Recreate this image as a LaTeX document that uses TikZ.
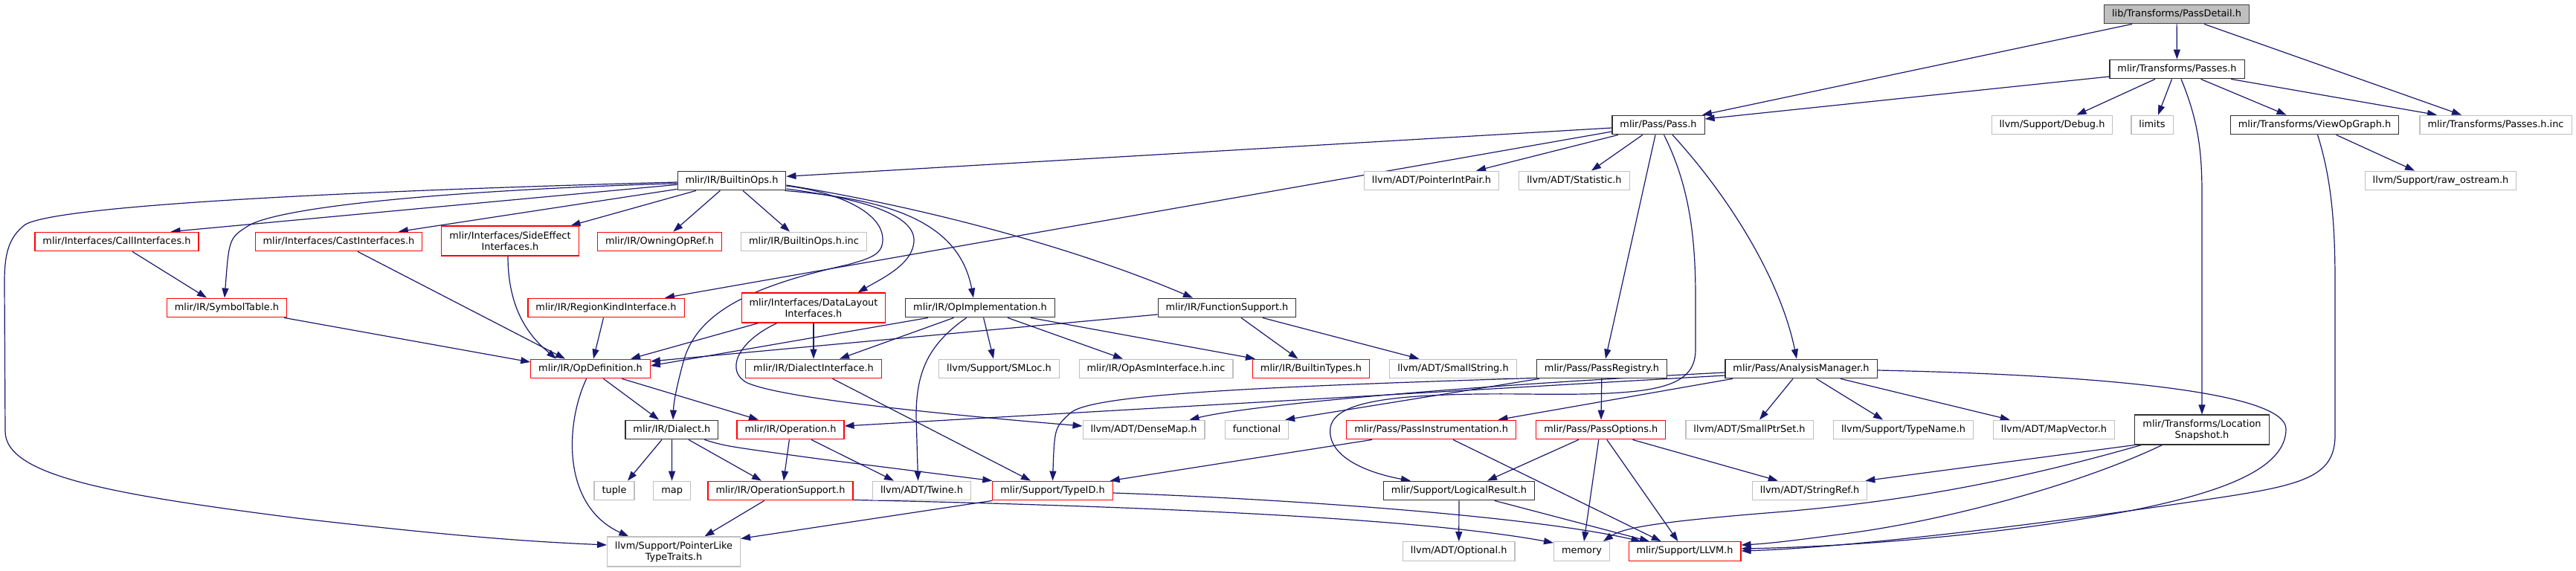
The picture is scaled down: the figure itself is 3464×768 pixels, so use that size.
\documentclass[tikz,border=0pt]{standalone}
\usepackage{fontspec}
\setmainfont{DejaVu Sans}
\usetikzlibrary{arrows.meta,calc}
\definecolor{edgeblue}{HTML}{191970}
\definecolor{truncred}{HTML}{FF0000}
\definecolor{extgray}{HTML}{BFBFBF}
\definecolor{docborder}{HTML}{303030}
\definecolor{rootfill}{HTML}{BFBFBF}
\definecolor{rootborder}{HTML}{404040}
\pgfdeclarelayer{bg}
\pgfsetlayers{bg,main}
\newcommand{\nodefnt}{\fontsize{12.9}{15}\selectfont}
\begin{document}
\begin{tikzpicture}[x=1pt,y=-1pt,
  nbox/.style={draw, line width=1.1pt, inner xsep=10.5pt, inner ysep=0pt, font=\nodefnt, text=black, fill=white},
  one/.style={minimum height=25.7pt, text height=9.6pt, text depth=2.9pt},
  two/.style={minimum height=40pt, align=center},
  docnode/.style={nbox, one, draw=docborder},
  trunc/.style={nbox, one, draw=truncred},
  extnode/.style={nbox, one, draw=extgray},
  doctwo/.style={nbox, two, draw=docborder},
  trunctwo/.style={nbox, two, draw=truncred},
  exttwo/.style={nbox, two, draw=extgray},
  rootnode/.style={nbox, one, draw=rootborder, fill=rootfill},
  conn/.style={draw=edgeblue, line width=1.2pt, -{Triangle[length=13pt,width=9pt]}}
]
\begin{pgfonlayer}{bg}
\fill[white] (0,0) rectangle (3464,768);
\end{pgfonlayer}
\useasboundingbox (0,0) rectangle (3464,768);

% ---------------- nodes ----------------
\node[rootnode] (root) at (2927,19) {lib/Transforms/PassDetail.h};
\node[docnode] (passes) at (2927.5,93) {mlir/Transforms/Passes.h};
\node[docnode] (pass) at (2230,168) {mlir/Pass/Pass.h};
\node[extnode] (debug) at (2759.5,168) {llvm/Support/Debug.h};
\node[extnode] (limits) at (2894,168) {limits};
\node[docnode] (viewop) at (3112.5,168) {mlir/Transforms/ViewOpGraph.h};
\node[extnode] (passesinc) at (3356,168) {mlir/Transforms/Passes.h.inc};
\node[docnode] (builtinops) at (984,243) {mlir/IR/BuiltinOps.h};
\node[extnode] (pointerintpair) at (1925,243) {llvm/ADT/PointerIntPair.h};
\node[extnode] (statistic) at (2117,243) {llvm/ADT/Statistic.h};
\node[extnode] (rawostream) at (3282,243) {llvm/Support/raw\_ostream.h};
\node[trunc] (callif) at (157,325) {mlir/Interfaces/CallInterfaces.h};
\node[trunc] (castif) at (455.5,325) {mlir/Interfaces/CastInterfaces.h};
\node[trunctwo] (sideeffect) at (686,324) {mlir/Interfaces/SideEffect\\Interfaces.h};
\node[trunc] (owning) at (887,325) {mlir/IR/OwningOpRef.h};
\node[extnode] (builtinopsinc) at (1081,325) {mlir/IR/BuiltinOps.h.inc};
\node[trunc] (symtab) at (305,414) {mlir/IR/SymbolTable.h};
\node[trunc] (regionkind) at (815,414) {mlir/IR/RegionKindInterface.h};
\node[trunctwo] (datalayout) at (1094,414) {mlir/Interfaces/DataLayout\\Interfaces.h};
\node[docnode] (opimpl) at (1318,414) {mlir/IR/OpImplementation.h};
\node[docnode] (funcsupport) at (1650,414) {mlir/IR/FunctionSupport.h};
\node[trunc] (opdef) at (794,496) {mlir/IR/OpDefinition.h};
\node[trunc] (dialectif) at (1094,496) {mlir/IR/DialectInterface.h};
\node[extnode] (smloc) at (1343.5,496) {llvm/Support/SMLoc.h};
\node[extnode] (opasminc) at (1554.5,496) {mlir/IR/OpAsmInterface.h.inc};
\node[trunc] (builtintypes) at (1763,496) {mlir/IR/BuiltinTypes.h};
\node[extnode] (smallstring) at (1954,496) {llvm/ADT/SmallString.h};
\node[docnode] (passregistry) at (2154,496) {mlir/Pass/PassRegistry.h};
\node[docnode] (analysis) at (2422,496) {mlir/Pass/AnalysisManager.h};
\node[docnode] (dialect) at (903.4,578) {mlir/IR/Dialect.h};
\node[trunc] (operation) at (1063,578) {mlir/IR/Operation.h};
\node[extnode] (densemap) at (1538,578) {llvm/ADT/DenseMap.h};
\node[extnode] (functional) at (1690,578) {functional};
\node[trunc] (passinstr) at (1924.6,578) {mlir/Pass/PassInstrumentation.h};
\node[trunc] (passoptions) at (2152.8,578) {mlir/Pass/PassOptions.h};
\node[extnode] (smallptrset) at (2352.5,578) {llvm/ADT/SmallPtrSet.h};
\node[extnode] (typename) at (2559.5,578) {llvm/Support/TypeName.h};
\node[extnode] (mapvector) at (2762,578) {llvm/ADT/MapVector.h};
\node[doctwo] (locsnap) at (2961,578) {mlir/Transforms/Location\\Snapshot.h};
\node[extnode] (tuple) at (826,660) {tuple};
\node[extnode] (map) at (903.6,660) {map};
\node[trunc] (opsupport) at (1049.5,660) {mlir/IR/OperationSupport.h};
\node[extnode] (twine) at (1239.5,660) {llvm/ADT/Twine.h};
\node[trunc] (typeid) at (1415.5,660) {mlir/Support/TypeID.h};
\node[docnode] (logical) at (1962,660) {mlir/Support/LogicalResult.h};
\node[extnode] (stringref) at (2433.6,660) {llvm/ADT/StringRef.h};
\node[exttwo] (pointerlike) at (906,742) {llvm/Support/PointerLike\\TypeTraits.h};
\node[extnode] (optional) at (1961.7,741.5) {llvm/ADT/Optional.h};
\node[extnode] (memory) at (2127,741.5) {memory};
\node[trunc] (llvm) at (2265.5,741.5) {mlir/Support/LLVM.h};

% ---------------- edges ----------------
\begin{pgfonlayer}{bg}
% root
\draw[conn] ($(root.south)+(-60,0)$) -- ($(pass.north)+(59,0)$);
\draw[conn] (root) -- (passes);
\draw[conn] ($(root.south)+(37,0)$) -- ($(passesinc.north)+(-46,0)$);
% passes
\draw[conn] ($(passes.west)+(0,10)$) -- ($(pass.east)+(0,-8)$);
\draw[conn] ($(passes.south)+(-29.5,0)$) -- ($(debug.north)+(33,0)$);
\draw[conn] ($(passes.south)+(-7,0)$) -- ($(limits.north)+(8,0)$);
\draw[conn] ($(passes.south)+(32,0)$) -- ($(viewop.north)+(-38,0)$);
\draw[conn] ($(passes.south)+(72.5,0)$) -- ($(passesinc.north)+(-79,0)$);
\draw[conn] ($(passes.south)+(5.5,0)$) .. controls (2955,160) and (2961,200) .. (2961,260) -- (locsnap.north);
% viewop
\draw[conn] ($(viewop.south)+(29,0)$) -- ($(rawostream.north)+(-35,0)$);
\draw[conn] ($(viewop.south)+(4,0)$) .. controls (3135,240) and (3140,300) .. (3140,380) -- (3140,585) .. controls (3140,640) and (3100,652) .. (2980,670) .. controls (2750,705) and (2480,737) .. ($(llvm.east)+(0,-0.5)$);
% locsnap
\draw[conn] (locsnap.south west) -- ($(stringref.north east)+(-3,0)$);
\draw[conn] ($(locsnap.south west)+(9,0)$) .. controls (2700,650) and (2550,675) .. (2400,688) .. controls (2250,700) and (2185,708) .. ($(memory.north east)+(-9,0)$);
\draw[conn] ($(locsnap.south)+(-53.5,0)$) .. controls (2800,650) and (2620,700) .. (2480,718) .. controls (2420,726) and (2380,731) .. ($(llvm.east)+(0,-8.5)$);
% analysis
\draw[conn] ($(analysis.west)+(0,9)$) -- ($(operation.east)+(0,-5)$);
\draw[conn] ($(analysis.west)+(0,5)$) .. controls (1950,520) and (1680,545) .. ($(densemap.north east)+(-21,0)$);
\draw[conn] ($(analysis.south west)+(10.4,0)$) -- ($(passinstr.north east)+(-24.5,0)$);
\draw[conn] ($(analysis.south)+(-11,0)$) -- ($(smallptrset.north)+(13.5,0)$);
\draw[conn] ($(analysis.south)+(20.5,0)$) -- ($(typename.north)+(-27.5,0)$);
\draw[conn] ($(analysis.south)+(53,0)$) -- ($(mapvector.north)+(-59.3,0)$);
\draw[conn] ($(analysis.east)+(0,2)$) .. controls (2850,505) and (3074,530) .. (3074,577) .. controls (3074,630) and (2990,662) .. (2864,687) .. controls (2660,725) and (2450,736) .. ($(llvm.east)+(0,-3.5)$);
% pass
\draw[conn] ($(pass.west)+(0,4)$) -- ($(builtinops.east)+(0,-5.7)$);
\draw[conn] ($(pass.west)+(0,9)$) -- ($(regionkind.north)+(79,0)$);
\draw[conn] ($(pass.south)+(-54,0)$) -- ($(pointerintpair.north)+(60,0)$);
\draw[conn] ($(pass.south)+(-21.2,0)$) -- ($(statistic.north)+(23,0)$);
\draw[conn] ($(pass.south)+(-4,0)$) -- ($(passregistry.north)+(5,0)$);
\draw[conn] ($(pass.south)+(19,0)$) .. controls (2330,270) and (2395,380) .. ($(analysis.north)+(-6,0)$);
\draw[conn] ($(pass.south)+(7.5,0)$) .. controls (2272,250) and (2280,320) .. (2280,400) -- (2280,470) .. controls (2280,525) and (2220,532) .. (2050,530) .. controls (1840,528) and (1778,545) .. (1790,590) .. controls (1800,625) and (1860,640) .. ($(logical.north west)+(37,0)$);
% passregistry
\draw[conn] (passregistry) -- (passoptions);
\draw[conn] ($(passregistry.south west)+(0,-1)$) .. controls (1700,520) and (1470,530) .. (1440,555) .. controls (1418,575) .. (typeid.north);
\draw[conn] ($(passregistry.south west)+(4,0)$) -- ($(functional.north east)+(-5,0)$);
% passoptions
\draw[conn] ($(passoptions.south)+(-30,0)$) -- ($(logical.north)+(38,0)$);
\draw[conn] ($(passoptions.south)+(-3,0)$) -- ($(memory.north)+(3,0)$);
\draw[conn] ($(passoptions.south)+(8,0)$) -- ($(llvm.north)+(-9,0)$);
\draw[conn] ($(passoptions.south)+(42.6,0)$) -- ($(stringref.north)+(-42.8,0)$);
% passinstr
\draw[conn] ($(passinstr.south)+(-79.6,0)$) -- ($(typeid.north east)+(-4,0)$);
\draw[conn] ($(passinstr.south)+(29.4,0)$) -- ($(llvm.north)+(-31.8,0)$);
% logical
\draw[conn] (logical) -- (optional);
\draw[conn] ($(logical.south)+(47.8,0)$) -- ($(llvm.north)+(-47.5,0)$);
% typeid
\draw[conn] ($(typeid.east)+(0,3)$) .. controls (1700,670) and (2050,692) .. ($(llvm.north west)+(17,0)$);
\draw[conn] (typeid.south west) -- ($(pointerlike.north east)+(0,3)$);
% opsupport
\draw[conn] ($(opsupport.south)+(-21.8,0)$) -- ($(pointerlike.north)+(41.4,0)$);
\draw[conn] ($(opsupport.south east)+(0,-1)$) .. controls (1500,680) and (1900,695) .. ($(memory.north west)+(0,2)$);
% operation
\draw[conn] ($(operation.south)+(-1.6,0)$) -- ($(opsupport.north)+(4.3,0)$);
\draw[conn] ($(operation.south)+(28,0)$) -- ($(twine.north)+(-37.5,0)$);
% dialect
\draw[conn] ($(dialect.south)+(-13.4,0)$) -- ($(tuple.north)+(18,0)$);
\draw[conn] (dialect) -- (map);
\draw[conn] ($(dialect.south)+(22.6,0)$) -- ($(opsupport.north)+(-25.5,0)$);
\draw[conn] ($(dialect.south)+(44,0)$) .. controls (975,600) .. (1100,617) -- (typeid.north west);
% opdef
\draw[conn] ($(opdef.south)+(17.5,0)$) -- ($(dialect.north)+(-17.4,0)$);
\draw[conn] ($(opdef.south)+(42.4,0)$) -- ($(operation.north)+(-43,0)$);
\draw[conn] ($(opdef.south)+(-5.4,0)$) .. controls (760,570) and (755,680) .. ($(pointerlike.north west)+(29.4,0)$);
% dialectif
\draw[conn] ($(dialectif.south)+(25.6,0)$) -- ($(typeid.north)+(-29.5,0)$);
% datalayout
\draw[conn] ($(datalayout.south)+(-74,0)$) -- ($(opdef.north)+(54,0)$);
\draw[conn] (datalayout) -- (dialectif);
\draw[conn] ($(datalayout.south)+(-49,0)$) .. controls (990,460) and (975,500) .. (1005,515) .. controls (1050,535) and (1250,556) .. ($(densemap.west)+(0,-5)$);
% regionkind, symtab, interfaces
\draw[conn] ($(regionkind.south)+(-3.5,0)$) -- ($(opdef.north)+(4,0)$);
\draw[conn] ($(symtab.south east)+(-4,0)$) -- ($(opdef.west)+(0,-9)$);
\draw[conn] ($(callif.south)+(21,0)$) -- ($(symtab.north)+(-27,0)$);
\draw[conn] ($(castif.south)+(25.5,0)$) -- ($(opdef.north)+(-34,0)$);
\draw[conn] ($(sideeffect.south)+(-3,0)$) .. controls (683,420) and (715,455) .. ($(opdef.north)+(-46,0)$);
% opimpl, funcsupport
\draw[conn] ($(opimpl.south)+(-70,0)$) -- ($(opdef.east)+(0,-4)$);
\draw[conn] ($(funcsupport.west)+(0,9)$) -- ($(opdef.east)+(0,-10)$);
\draw[conn] ($(opimpl.south)+(-35.5,0)$) -- ($(dialectif.north)+(35,0)$);
\draw[conn] ($(opimpl.south)+(-18.3,0)$) .. controls (1245,465) and (1232,505) .. (1232,560) -- ($(twine.north)+(-5,0)$);
\draw[conn] ($(opimpl.south)+(4.6,0)$) -- ($(smloc.north)+(-7.5,0)$);
\draw[conn] ($(opimpl.south)+(37,0)$) -- ($(opasminc.north)+(-44.5,0)$);
\draw[conn] ($(opimpl.south)+(67.8,0)$) -- ($(builtintypes.north)+(-75,0)$);
\draw[conn] ($(funcsupport.south)+(19,0)$) -- ($(builtintypes.north)+(-17.5,0)$);
\draw[conn] ($(funcsupport.south)+(47.7,0)$) -- ($(smallstring.north)+(-45.6,0)$);
% builtinops
\draw[conn] ($(builtinops.west)+(0,5.3)$) -- ($(callif.north)+(72.6,0)$);
\draw[conn] ($(builtinops.south west)+(0,-2)$) -- ($(castif.north)+(80.3,0)$);
\draw[conn] ($(builtinops.south)+(-48,0)$) -- ($(sideeffect.north)+(81.5,0)$);
\draw[conn] ($(builtinops.south)+(-15.6,0)$) -- ($(owning.north)+(18.3,0)$);
\draw[conn] ($(builtinops.south)+(15,0)$) -- ($(builtinopsinc.north)+(-19,0)$);
\draw[conn] ($(builtinops.west)+(0,3.7)$) .. controls (600,256) and (380,278) .. (335,303) .. controls (308,320) .. ($(symtab.north)+(-3,0)$);
\draw[conn] ($(builtinops.west)+(0,2)$) .. controls (500,256) and (80,275) .. (34,302) .. controls (10,320) and (6,345) .. (6,380) -- (7,580) .. controls (7,640) and (150,665) .. (400,697) .. controls (600,720) and (700,728) .. ($(pointerlike.west)+(0,-9)$);
\draw[conn] ($(builtinops.east)+(0,7)$) .. controls (1125,258) and (1187,285) .. (1187,322) .. controls (1187,342) and (1172,347) .. (1140,356) .. controls (1010,385) and (935,420) .. (918,490) .. controls (910,520) and (906,540) .. ($(dialect.north)+(1.6,0)$);
\draw[conn] ($(builtinops.east)+(0,11)$) .. controls (1165,268) and (1229,290) .. (1229,323) .. controls (1229,355) and (1185,375) .. ($(datalayout.north east)+(-38,0)$);
\draw[conn] ($(builtinops.south east)+(-2,0)$) .. controls (1200,268) and (1290,300) .. ($(opimpl.north)+(-9,0)$);
\draw[conn] ($(builtinops.east)+(0,6)$) .. controls (1250,280) and (1450,335) .. ($(funcsupport.north)+(-46,0)$);
\end{pgfonlayer}
\end{tikzpicture}
\end{document}
